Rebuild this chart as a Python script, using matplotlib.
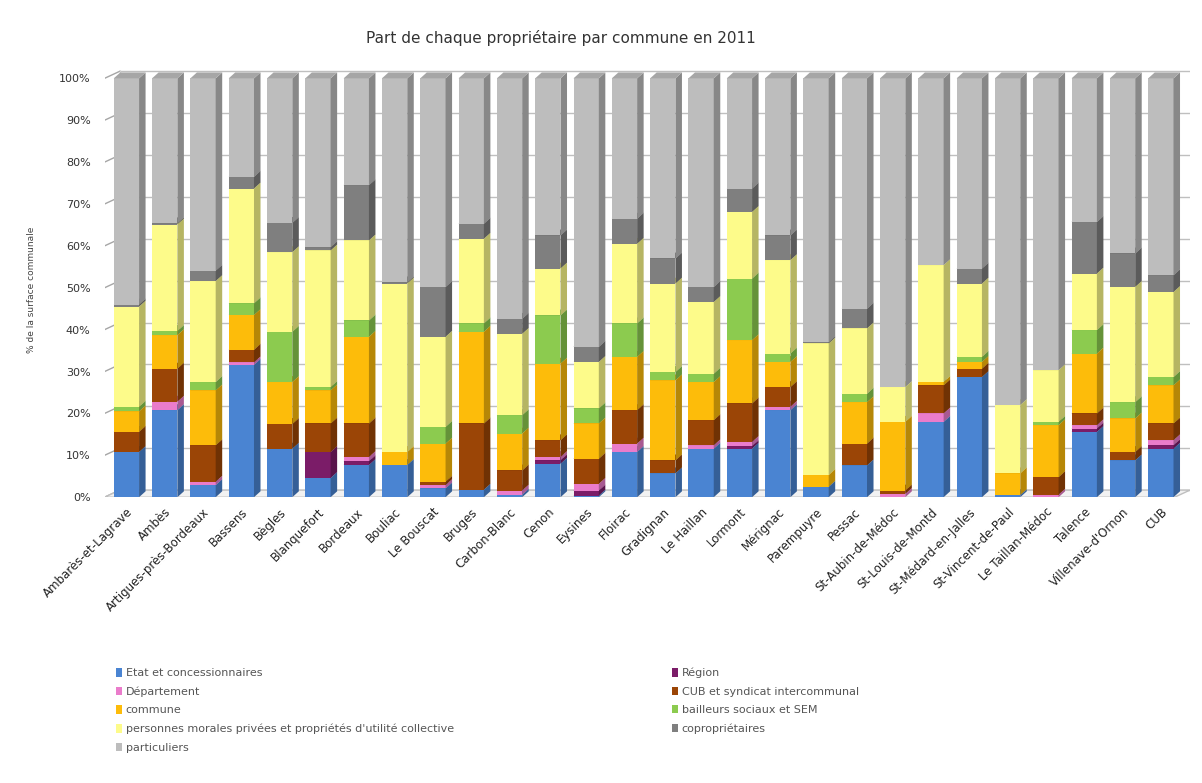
import matplotlib.pyplot as plt
from matplotlib.patches import Polygon, Patch
from matplotlib.colors import to_rgb
import numpy as np

communes = ['Ambarès-et-Lagrave', 'Ambès', 'Artigues-près-Bordeaux', 'Bassens', 'Bègles',
            'Blanquefort', 'Bordeaux', 'Bouliac', 'Le Bouscat', 'Bruges', 'Carbon-Blanc',
            'Cenon', 'Eysines', 'Floirac', 'Gradignan', 'Le Haillan', 'Lormont', 'Mérignac',
            'Parempuyre', 'Pessac', 'St-Aubin-de-Médoc', 'St-Louis-de-Montd',
            'St-Médard-en-Jalles', 'St-Vincent-de-Paul', 'Le Taillan-Médoc', 'Talence',
            "Villenave-d'Ornon", 'CUB']

# parts en % de la surface communale, de bas en haut
etat = [10.8, 20.8, 2.9, 31.6, 11.6, 4.6, 7.7, 7.7, 2.1, 1.8, 0.6, 8.0, 0.4, 10.8,
        5.7, 11.6, 11.6, 20.8, 2.5, 7.6, 0.0, 18.0, 28.7, 0.5, 0.0, 15.6, 8.8, 11.6]
region = [0, 0, 0, 0, 0, 6.2, 0.9, 0, 0, 0, 0, 0.8, 1.2, 0,
          0, 0, 0.6, 0, 0, 0, 0, 0, 0, 0, 0, 0.8, 0, 0.8]
departement = [0, 2.0, 0.8, 0.6, 0, 0, 1.0, 0, 0.8, 0, 1.0, 0.8, 1.6, 2.0,
               0, 0.8, 1.0, 0.8, 0, 0, 0.8, 2.0, 0, 0, 0.6, 0.8, 0, 1.2]
cub = [4.8, 7.9, 8.7, 3.0, 5.9, 6.8, 8.0, 0, 0.8, 15.8, 4.8, 4.0, 6.0, 8.0,
       3.1, 6.0, 9.2, 4.7, 0, 5.2, 0.8, 6.7, 2.0, 0, 4.2, 2.8, 2.0, 4.0]
commune = [4.9, 8.0, 13.1, 8.3, 10.0, 7.9, 20.7, 3.1, 9.1, 21.9, 8.8, 18.3, 8.4, 12.7,
           19.1, 9.1, 15.1, 6.0, 2.8, 9.9, 16.4, 0.8, 1.6, 5.2, 12.4, 14.3, 8.0, 9.1]
bailleurs = [1.1, 1.0, 2.0, 2.8, 12.0, 0.8, 3.9, 0, 4.0, 2.0, 4.4, 11.5, 3.6, 8.0,
             2.0, 2.0, 14.7, 2.0, 0, 2.0, 0, 0, 1.2, 0, 0.8, 5.6, 3.9, 2.0]
personnes = [23.9, 25.4, 24.1, 27.4, 19.0, 32.6, 19.1, 40.2, 21.5, 20.2, 19.4, 11.2, 11.1, 19.0,
             21.1, 17.1, 15.9, 22.3, 31.4, 15.6, 8.3, 27.9, 17.5, 16.3, 12.3, 13.5, 27.5, 20.3]
copro = [0.5, 0.3, 2.5, 2.8, 7.0, 0.8, 13.2, 0.3, 11.9, 3.6, 3.6, 7.9, 3.6, 6.0,
         6.0, 3.6, 5.6, 5.9, 0.3, 4.7, 0, 0, 3.6, 0, 0, 12.3, 8.0, 4.0]
particuliers = [54.0, 34.6, 45.9, 23.5, 34.5, 40.3, 25.5, 48.7, 49.8, 34.7, 57.4, 37.5, 64.1, 33.5,
                43.0, 49.8, 26.3, 37.5, 63.0, 55.0, 73.7, 44.6, 45.4, 78.0, 69.7, 34.3, 41.8, 47.0]

series = [
    ('Etat et concessionnaires', etat, '#4a84d2'),
    ('Région', region, '#7b1c68'),
    ('Département', departement, '#ea7ccb'),
    ('CUB et syndicat intercommunal', cub, '#9b4506'),
    ('commune', commune, '#fdbc0a'),
    ('bailleurs sociaux et SEM', bailleurs, '#8ccb4f'),
    ("personnes morales privées et propriétés d'utilité collective", personnes, '#fdfb8a'),
    ('copropriétaires', copro, '#7f7f7f'),
    ('particuliers', particuliers, '#bdbdbd'),
]

plt.rcParams['font.family'] = ['DejaVu Sans']
fig = plt.figure(figsize=(12.02, 7.83), dpi=100)
ax = fig.add_axes([0.087, 0.365, 0.903, 0.551])

n = len(communes)
x = np.arange(n)
w = 0.66        # largeur de la face avant
dx, dy = 0.17, 1.4    # profondeur des barres
wx, wy = 0.4, 1.7     # profondeur du mur de fond
x0, x1 = -0.57, n - 1 + 0.76

def shade(c, f):
    r, g, b = to_rgb(c)
    return (r * f, g * f, b * f)

# murs et quadrillage
for v in range(0, 101, 10):
    ax.plot([x0 + wx, x1], [v + wy, v + wy], color='#bfbfbf', lw=1.0, zorder=0)
    ax.plot([x0, x0 + wx], [v, v + wy], color='#a6a6a6', lw=1.0, zorder=0)
ax.plot([x0 + wx, x0 + wx], [wy, 100 + wy], color='#d0d0d0', lw=1.0, zorder=0)
floor = Polygon([(x0, 0), (x0 + wx, wy), (x1, wy), (x1 - wx, 0)], closed=True,
                facecolor='#f2f2f2', edgecolor='#bfbfbf', lw=1.0, zorder=0)
ax.add_patch(floor)

bottom = np.zeros(n)
for name, vals, col in series:
    vals = np.array(vals, dtype=float)
    ax.bar(x, vals, w, bottom=bottom, color=col, zorder=2, linewidth=0)
    for i in range(n):
        if vals[i] <= 0:
            continue
        b, t = bottom[i], bottom[i] + vals[i]
        xr = x[i] + w / 2
        side = Polygon([(xr, b), (xr + dx, b + dy), (xr + dx, t + dy), (xr, t)],
                       closed=True, facecolor=shade(col, 0.72), lw=0, zorder=2)
        ax.add_patch(side)
        top = Polygon([(x[i] - w / 2, t), (x[i] - w / 2 + dx, t + dy),
                       (xr + dx, t + dy), (xr, t)],
                      closed=True, facecolor=shade(col, 0.88), lw=0, zorder=2)
        ax.add_patch(top)
    bottom += vals

ax.set_xlim(x0, x1)
ax.set_ylim(0, 103)
ax.set_yticks(range(0, 101, 10))
ax.set_yticklabels([f'{v}%' for v in range(0, 101, 10)], fontsize=8, color='#333333')
ax.set_xticks(x)
ax.set_xticklabels(communes, rotation=45, ha='right', rotation_mode='anchor',
                   fontsize=8.5, color='#222222')
ax.tick_params(length=0, pad=10)
ax.tick_params(axis='x', pad=6)
for s in ax.spines.values():
    s.set_visible(False)

fig.text(0.026, 0.63, '% de la surface communale', rotation=90, fontsize=6.5,
         color='#444444', ha='center', va='center')
fig.text(0.467, 0.952, 'Part de chaque propriétaire par commune en 2011',
         fontsize=11, color='#333333', ha='center', va='center')

handles = [Patch(facecolor=c, label=nm) for nm, _, c in series]
order = [0, 2, 4, 6, 8, 1, 3, 5, 7]
fig.legend([handles[k] for k in order], [series[k][0] for k in order],
           loc='upper left', bbox_to_anchor=(0.088, 0.16), ncol=2,
           frameon=False, fontsize=8, handlelength=0.6, handleheight=0.8,
           handletextpad=0.3, labelspacing=0.75, columnspacing=19.6,
           labelcolor='#555555')

fig.savefig('out.png', dpi=100)
